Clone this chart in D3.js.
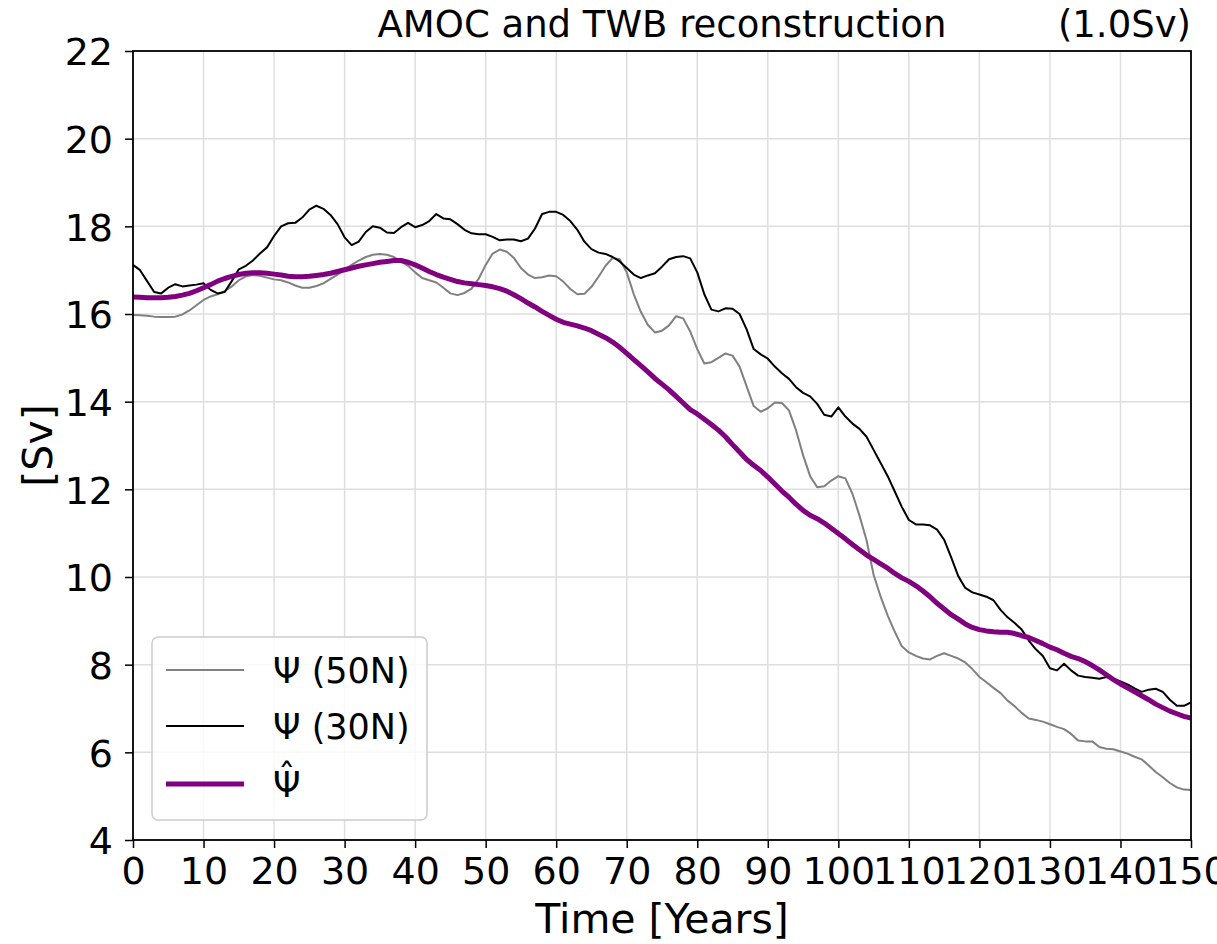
<!DOCTYPE html>
<html>
<head>
<meta charset="utf-8">
<script src="https://cdn.jsdelivr.net/npm/d3@7"></script>
<style>
  html, body { margin: 0; padding: 0; background: #fff; }
  svg { display: block; font-family: "DejaVu Sans", sans-serif; }
</style>
</head>
<body>
<svg id="chart" width="1217" height="944"></svg>
<script>
// Time axis, years 0..150
const years = d3.range(0, 151);

// Overturning streamfunction at 50N [Sv]
const psi50N = [
  15.98, 15.97, 15.96, 15.94, 15.93, 15.93, 15.94, 15.99, 16.08, 16.20,
  16.32, 16.40, 16.45, 16.52, 16.63, 16.77, 16.86, 16.89, 16.87, 16.83,
  16.79, 16.77, 16.72, 16.65, 16.60, 16.60, 16.64, 16.70, 16.80, 16.90,
  17.01, 17.12, 17.22, 17.30, 17.35, 17.37, 17.35, 17.30, 17.20, 17.10,
  16.95, 16.82, 16.77, 16.72, 16.60, 16.47, 16.43, 16.48, 16.58, 16.80,
  17.12, 17.38, 17.47, 17.42, 17.28, 17.05, 16.90, 16.82, 16.84, 16.88,
  16.86, 16.74, 16.57, 16.45, 16.46, 16.62, 16.85, 17.10, 17.28, 17.25,
  16.95, 16.45, 16.05, 15.75, 15.58, 15.62, 15.74, 15.95, 15.90, 15.60,
  15.20, 14.87, 14.90, 15.00, 15.10, 15.05, 14.80, 14.35, 13.90, 13.77,
  13.85, 13.98, 13.97, 13.80, 13.35, 12.78, 12.30, 12.05, 12.07, 12.20,
  12.30, 12.25, 11.90, 11.40, 10.84, 10.05, 9.55, 9.12, 8.75, 8.42,
  8.28, 8.20, 8.14, 8.12, 8.20, 8.26, 8.20, 8.14, 8.05, 7.90,
  7.72, 7.60, 7.47, 7.35, 7.18, 7.05, 6.90, 6.77, 6.74, 6.70,
  6.64, 6.58, 6.53, 6.42, 6.27, 6.25, 6.25, 6.12, 6.08, 6.07,
  6.02, 5.97, 5.90, 5.84, 5.70, 5.55, 5.43, 5.30, 5.20, 5.15,
  5.14
];

// Overturning streamfunction at 30N [Sv]
const psi30N = [
  17.12, 17.00, 16.75, 16.50, 16.47, 16.60, 16.68, 16.63, 16.65, 16.67,
  16.70, 16.55, 16.47, 16.50, 16.75, 17.02, 17.10, 17.22, 17.38, 17.52,
  17.78, 18.00, 18.07, 18.08, 18.20, 18.38, 18.47, 18.40, 18.26, 18.05,
  17.75, 17.57, 17.65, 17.87, 18.00, 17.97, 17.86, 17.85, 17.98, 18.08,
  17.98, 18.03, 18.12, 18.28, 18.18, 18.16, 18.05, 17.92, 17.84, 17.82,
  17.82, 17.76, 17.68, 17.70, 17.70, 17.66, 17.72, 17.95, 18.28, 18.33,
  18.33, 18.26, 18.12, 17.92, 17.65, 17.48, 17.40, 17.37, 17.30, 17.20,
  17.05, 16.90, 16.82, 16.88, 16.93, 17.08, 17.25, 17.30, 17.32, 17.27,
  16.95, 16.45, 16.10, 16.06, 16.13, 16.12, 16.00, 15.65, 15.20, 15.08,
  14.98, 14.80, 14.65, 14.52, 14.33, 14.20, 14.12, 13.95, 13.70, 13.66,
  13.87, 13.66, 13.50, 13.38, 13.20, 12.90, 12.60, 12.30, 11.95, 11.60,
  11.30, 11.20, 11.20, 11.18, 11.08, 10.85, 10.45, 10.02, 9.75, 9.65,
  9.60, 9.55, 9.47, 9.25, 9.08, 8.95, 8.80, 8.55, 8.35, 8.20,
  7.92, 7.87, 8.02, 7.87, 7.75, 7.72, 7.70, 7.68, 7.72, 7.68,
  7.62, 7.55, 7.46, 7.38, 7.43, 7.45, 7.38, 7.20, 7.06, 7.06,
  7.14
];

// Reconstructed AMOC from the thermal wind balance [Sv]
const psiHat = [
  16.39, 16.38, 16.37, 16.37, 16.37, 16.38, 16.40, 16.43, 16.47, 16.53,
  16.60, 16.67, 16.75, 16.81, 16.86, 16.90, 16.93, 16.94, 16.94, 16.93,
  16.91, 16.89, 16.86, 16.85, 16.85, 16.86, 16.88, 16.90, 16.93, 16.97,
  17.01, 17.05, 17.09, 17.12, 17.15, 17.18, 17.20, 17.22, 17.22, 17.18,
  17.12, 17.05, 16.97, 16.90, 16.84, 16.79, 16.74, 16.71, 16.69, 16.67,
  16.65, 16.62, 16.58, 16.52, 16.44, 16.35, 16.25, 16.16, 16.06, 15.97,
  15.88, 15.81, 15.77, 15.73, 15.68, 15.62, 15.54, 15.46, 15.36, 15.24,
  15.10, 14.96, 14.82, 14.68, 14.53, 14.40, 14.27, 14.12, 13.97, 13.82,
  13.72, 13.60, 13.48, 13.35, 13.20, 13.02, 12.85, 12.68, 12.55, 12.43,
  12.28, 12.12, 11.96, 11.82, 11.66, 11.52, 11.41, 11.33, 11.23, 11.11,
  10.99, 10.87, 10.74, 10.62, 10.50, 10.40, 10.30, 10.20, 10.08, 9.98,
  9.90, 9.80, 9.68, 9.55, 9.40, 9.27, 9.14, 9.04, 8.93, 8.85,
  8.80, 8.77, 8.75, 8.74, 8.74, 8.71, 8.66, 8.62, 8.55, 8.48,
  8.40, 8.34, 8.26, 8.19, 8.14, 8.07, 7.98, 7.88, 7.77, 7.66,
  7.56, 7.47, 7.38, 7.29, 7.20, 7.10, 7.02, 6.94, 6.88, 6.82,
  6.78
];

const xTicks = d3.range(0, 151, 10);
const yTicks = d3.range(4, 23, 2);

const seriesNames = ["\u03A8 (50N)", "\u03A8 (30N)", "\u03A8"];
const seriesHats = [false, false, true];
const seriesColors = ["#808080", "#000000", "#800080"];
const seriesWidths = [2, 2, 5];

const margin = { left: 133, right: 26, top: 51, bottom: 104 };
const W = 1217, H = 944;
const pw = W - margin.left - margin.right;
const ph = H - margin.top - margin.bottom;

const svg = d3.select("#chart");
const g = svg.append("g").attr("transform", `translate(${margin.left},${margin.top})`);

const x = d3.scaleLinear().domain([0, 150]).range([0, pw]);
const y = d3.scaleLinear().domain([4, 22]).range([ph, 0]);

// grid
g.append("g").selectAll("line").data(xTicks).join("line")
  .attr("x1", d => x(d)).attr("x2", d => x(d))
  .attr("y1", 0).attr("y2", ph)
  .attr("stroke", "#dedede").attr("stroke-width", 1.5);
g.append("g").selectAll("line").data(yTicks).join("line")
  .attr("y1", d => y(d)).attr("y2", d => y(d))
  .attr("x1", 0).attr("x2", pw)
  .attr("stroke", "#dedede").attr("stroke-width", 1.5);

// lines
svg.append("defs").append("clipPath").attr("id", "plotclip")
  .append("rect").attr("width", pw).attr("height", ph);

const line = d3.line().x((d, i) => x(years[i])).y(d => y(d));
const seriesData = [psi50N, psi30N, psiHat];
g.append("g").attr("clip-path", "url(#plotclip)")
  .selectAll("path").data(seriesData).join("path")
  .attr("d", d => line(d))
  .attr("fill", "none")
  .attr("stroke", (d, i) => seriesColors[i])
  .attr("stroke-width", (d, i) => seriesWidths[i])
  .attr("stroke-linejoin", "round")
  .attr("stroke-linecap", "butt");

// axes
const xAxis = g.append("g").attr("transform", `translate(0,${ph})`)
  .call(d3.axisBottom(x).tickValues(xTicks).tickSize(8).tickPadding(9).tickFormat(d3.format("d")));
const yAxis = g.append("g")
  .call(d3.axisLeft(y).tickValues(yTicks).tickSize(8).tickPadding(12).tickFormat(d3.format("d")));
[xAxis, yAxis].forEach(a => {
  a.select(".domain").remove();
  a.selectAll(".tick line").attr("stroke", "#000").attr("stroke-width", 1.5);
  a.selectAll(".tick text").attr("fill", "#000")
    .style("font-family", "DejaVu Sans").style("font-size", "38px");
});
xAxis.selectAll(".tick text").attr("dy", "0.71em");
yAxis.selectAll(".tick text").attr("dy", "0.36em");

// frame
g.append("rect").attr("width", pw).attr("height", ph)
  .attr("fill", "none").attr("stroke", "#000").attr("stroke-width", 1.8);

// title
svg.append("text").attr("x", margin.left + pw / 2).attr("y", 37)
  .attr("text-anchor", "middle").style("font-size", "37px")
  .text("AMOC and TWB reconstruction");
svg.append("text").attr("x", margin.left + pw).attr("y", 37)
  .attr("text-anchor", "end").style("font-size", "37px")
  .text("(1.0Sv)");

// axis labels
svg.append("text").attr("x", margin.left + pw / 2).attr("y", 933)
  .attr("text-anchor", "middle").style("font-size", "41px")
  .text("Time [Years]");
svg.append("text")
  .attr("transform", `translate(52,${margin.top + ph / 2}) rotate(-90)`)
  .attr("text-anchor", "middle").style("font-size", "41px")
  .text("[Sv]");

// legend
const leg = svg.append("g");
leg.append("rect").attr("x", 152).attr("y", 637).attr("width", 275).attr("height", 183)
  .attr("rx", 6).attr("fill", "#fff").attr("fill-opacity", 0.8)
  .attr("stroke", "#cccccc").attr("stroke-width", 1.5);
const rowsY = [670, 726, 784];
seriesNames.forEach((name, i) => {
  leg.append("line").attr("x1", 166).attr("x2", 244)
    .attr("y1", rowsY[i]).attr("y2", rowsY[i])
    .attr("stroke", seriesColors[i]).attr("stroke-width", seriesWidths[i]);
  const t = leg.append("text").attr("x", 273).attr("y", rowsY[i] + 13)
    .style("font-size", "35px");
  const base = t.append("tspan").text(name);
  if (seriesHats[i]) {
    // circumflex accent placed over the symbol within the same label
    const w = base.node().getComputedTextLength();
    const hat = t.append("tspan").text("\u02C6");
    const hw = hat.node().getComputedTextLength();
    hat.attr("dx", -(w / 2 + hw / 2)).attr("dy", -8);
  }
});
</script>
</body>
</html>
